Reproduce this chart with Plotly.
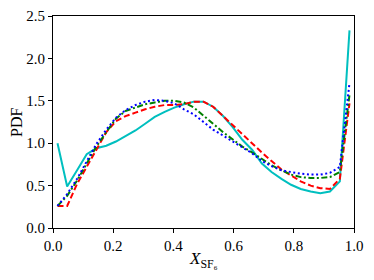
import plotly.graph_objects as go

x_vals = [0.015, 0.047, 0.080, 0.112, 0.144, 0.177, 0.209, 0.241, 0.274, 0.306,
          0.338, 0.371, 0.403, 0.435, 0.468, 0.500, 0.532, 0.565, 0.597, 0.629,
          0.662, 0.694, 0.726, 0.759, 0.791, 0.823, 0.856, 0.888, 0.920, 0.953, 0.985]

cyan_vals = [1.00, 0.49, 0.68, 0.87, 0.94, 0.97, 1.02, 1.08, 1.15, 1.23,
             1.31, 1.37, 1.42, 1.46, 1.49, 1.49, 1.43, 1.32, 1.19, 1.04,
             0.92, 0.76, 0.66, 0.58, 0.51, 0.46, 0.43, 0.41, 0.43, 0.55, 2.33]

red_vals = [0.26, 0.26, 0.52, 0.72, 0.93, 1.13, 1.26, 1.32, 1.36, 1.40,
            1.43, 1.45, 1.45, 1.46, 1.49, 1.49, 1.43, 1.32, 1.21, 1.11,
            0.99, 0.89, 0.79, 0.69, 0.62, 0.55, 0.50, 0.47, 0.46, 0.58, 1.47]

green_vals = [0.26, 0.38, 0.56, 0.76, 0.96, 1.13, 1.29, 1.38, 1.42, 1.46,
              1.48, 1.50, 1.50, 1.48, 1.42, 1.33, 1.23, 1.13, 1.04, 0.96,
              0.89, 0.81, 0.74, 0.68, 0.63, 0.60, 0.59, 0.59, 0.60, 0.66, 1.57]

blue_vals = [0.26, 0.40, 0.58, 0.79, 0.99, 1.16, 1.30, 1.39, 1.45, 1.49,
             1.51, 1.50, 1.47, 1.40, 1.34, 1.25, 1.16, 1.09, 1.02, 0.96,
             0.88, 0.79, 0.73, 0.68, 0.66, 0.64, 0.63, 0.63, 0.65, 0.72, 1.71]

x_ticks = [0.0, 0.2, 0.4, 0.6, 0.8, 1.0]
y_ticks = [0.0, 0.5, 1.0, 1.5, 2.0, 2.5]

FONT = "Liberation Serif, Times New Roman, serif"

fig = go.Figure()
series = [
    (cyan_vals, "#00BFBF", "solid"),
    (red_vals, "#FF0000", "6px,3px"),
    (green_vals, "#008000", "6px,2.5px,2px,2.5px"),
    (blue_vals, "#0000FF", "2px,2.6px"),
]
for vals, color, dash in series:
    fig.add_trace(go.Scatter(x=x_vals, y=vals, mode="lines",
                             line=dict(color=color, width=2, dash=dash),
                             showlegend=False, hoverinfo="skip"))

axis_common = dict(
    showline=True, linecolor="black", linewidth=1, mirror=True,
    showgrid=False, zeroline=False, automargin=False,
    ticks="outside", ticklen=4, tickwidth=1, tickcolor="black",
    tickfont=dict(family=FONT, size=15, color="black"),
)

# page body has an 8px default margin; the figure is sized to compensate
fig.update_layout(
    width=366, height=272,
    margin=dict(l=45, r=20, t=8, b=52),
    paper_bgcolor="white", plot_bgcolor="white",
    font=dict(family=FONT, color="black"),
    xaxis=dict(range=[0, 1], tickvals=x_ticks,
               ticktext=[f"{v:.1f}" for v in x_ticks], **axis_common),
    yaxis=dict(range=[0, 2.5], tickvals=y_ticks,
               ticktext=[f"{v:.1f}" for v in y_ticks], **axis_common),
    annotations=[
        dict(text="<i>X</i><sub>SF₆</sub>", xref="paper", yref="paper",
             x=0.5, y=-0.15, xanchor="center", yanchor="middle",
             showarrow=False, font=dict(family=FONT, size=17, color="black")),
        dict(text="PDF", xref="paper", yref="paper",
             x=-0.123, y=0.5, xanchor="center", yanchor="middle", textangle=-90,
             showarrow=False, font=dict(family=FONT, size=16, color="black")),
    ],
)

fig.write_html("out.html")
